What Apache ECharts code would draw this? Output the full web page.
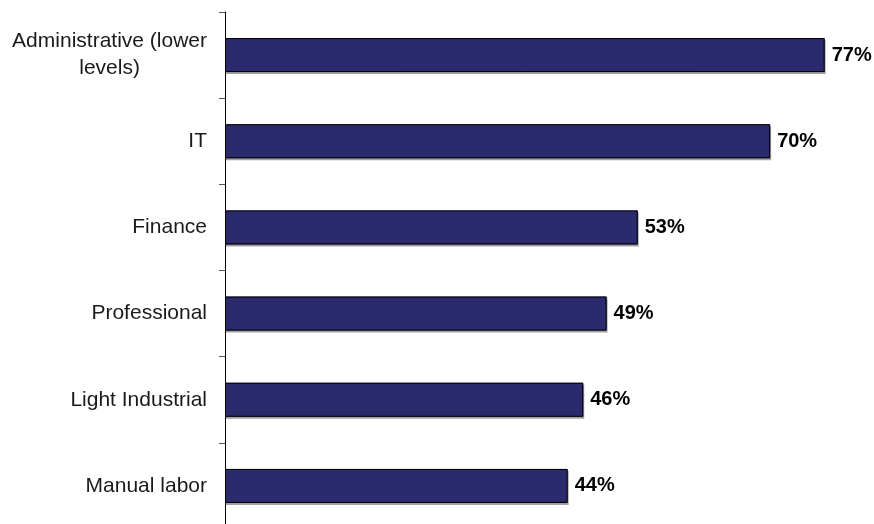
<!DOCTYPE html>
<html>
<head>
<meta charset="utf-8">
<script src="https://cdn.jsdelivr.net/npm/echarts@6/dist/echarts.min.js"></script>
<style>
  html, body { margin: 0; padding: 0; background: #fff; }
  #chart { width: 874px; height: 524px; }
</style>
</head>
<body>
<div id="chart"></div>
<script>
// Job categories, top to bottom
const categories = [
  'Administrative (lower\nlevels)',
  'IT',
  'Finance',
  'Professional',
  'Light Industrial',
  'Manual labor'
];
// Share of respondents, percent
const values = [77, 70, 53, 49, 46, 44];

const FONT = 'Liberation Sans, Arial, sans-serif';
const chart = echarts.init(document.getElementById('chart'), null, { renderer: 'canvas' });

chart.setOption({
  animation: false,
  backgroundColor: '#ffffff',
  grid: {
    left: 225, right: 26, top: 12, height: 517,
    containLabel: false,
    outerBoundsMode: 'none'
  },
  xAxis: {
    type: 'value',
    min: 0,
    max: 80,
    show: false
  },
  yAxis: {
    type: 'category',
    data: categories,
    inverse: true,
    axisLine: { show: true, lineStyle: { color: '#000', width: 1 } },
    axisTick: { show: true, length: 6, interval: 0, lineStyle: { color: '#555', width: 1 } },
    splitLine: { show: false },
    axisLabel: {
      margin: 18,
      interval: 0,
      // each wrapped line is centred within the label block
      formatter: function (v) {
        return v.split('\n').map(function (line) { return '{c|' + line + '}'; }).join('\n');
      },
      rich: {
        c: {
          align: 'center',
          fontFamily: FONT,
          fontSize: 21,
          lineHeight: 27,
          color: '#1a1a1a'
        }
      }
    }
  },
  series: [
    {
      // filled bars with a soft grey drop edge
      type: 'bar',
      data: values,
      barWidth: 34,
      z: 2,
      itemStyle: {
        color: '#2a2a6c',
        shadowColor: 'rgba(150,150,150,0.9)',
        shadowBlur: 0,
        shadowOffsetX: 1,
        shadowOffsetY: 2
      },
      label: { show: false }
    },
    {
      // black outline and value labels on top of the fill
      type: 'bar',
      data: values,
      barWidth: 34,
      barGap: '-100%',
      z: 3,
      itemStyle: {
        color: 'rgba(0,0,0,0)',
        borderColor: '#000',
        borderWidth: 1
      },
      label: {
        show: true,
        position: 'right',
        distance: 7,
        formatter: '{c}%',
        fontFamily: FONT,
        fontWeight: 'bold',
        fontSize: 20,
        color: '#000'
      }
    }
  ]
});
</script>
</body>
</html>
